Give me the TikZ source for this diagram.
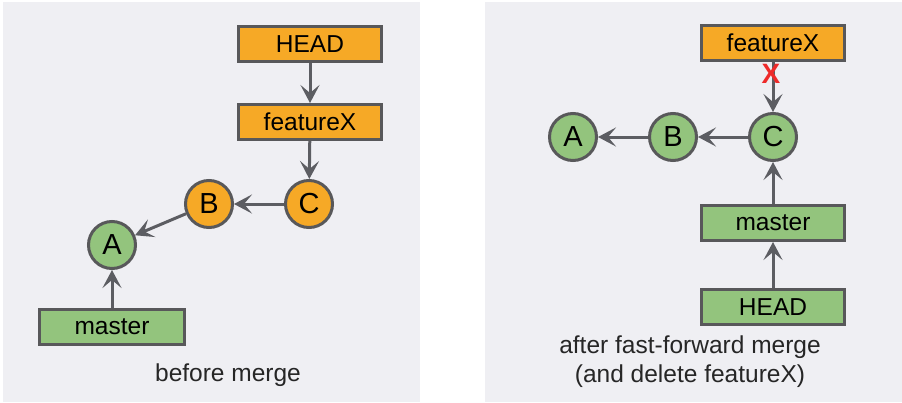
\documentclass[tikz,border=0pt]{standalone}
\usepackage{fontspec}
\setmainfont{Liberation Sans}
\usetikzlibrary{arrows.meta}
\definecolor{panelbg}{HTML}{EFEFF3}
\definecolor{orangefill}{HTML}{F6A926}
\definecolor{greenfill}{HTML}{93C47D}
\definecolor{edgegray}{HTML}{58585A}
\definecolor{arrowgray}{HTML}{5C5D62}
\definecolor{xred}{HTML}{EE2A2A}
\tikzset{
  refbox/.style={draw=edgegray, line width=3pt, minimum width=143pt, minimum height=35pt, inner sep=0pt, font=\fontsize{24.5}{29}\selectfont},
  commit/.style={circle, draw=edgegray, line width=3pt, minimum size=47pt, inner sep=0pt, font=\fontsize{29}{33}\selectfont},
  orangeref/.style={refbox, fill=orangefill},
  greenref/.style={refbox, fill=greenfill},
  orangecommit/.style={commit, fill=orangefill},
  greencommit/.style={commit, fill=greenfill},
  link/.style={draw=arrowgray, line width=3pt, -{Stealth[length=18pt, width=19pt, inset=8pt]}},
  caption/.style={font=\fontsize{24.5}{29}\selectfont, text=black!85, align=center}
}
\begin{document}
\begin{tikzpicture}[x=1pt, y=-1pt]
\useasboundingbox (0,0) rectangle (902,402);
\fill[white] (0,0) rectangle (902,402);
\fill[panelbg] (3,2) rectangle (420,402);
\fill[panelbg] (485,2) rectangle (902,402);

% left panel: before merge
\node[orangeref] (lhead) at (310,44) {HEAD};
\node[orangeref] (lfeat) at (310,122) {featureX};
\node[orangecommit] (lc) at (309,204) {C};
\node[orangecommit] (lb) at (209,204) {B};
\node[greencommit] (la) at (112,245) {A};
\node[greenref, minimum width=145pt] (lmaster) at (112,327) {master};
\node[caption] (lcap) at (228,375) {before merge};

\draw[link] (lhead) -- (lfeat);
\draw[link] (lfeat) -- (lc);
\draw[link] (lc) -- (lb);
\draw[link] (lb) -- (la);
\draw[link] (lmaster) -- (la);

% right panel: after fast-forward merge
\node[orangeref] (rfeat) at (773,43) {featureX};
\node[greencommit] (rc) at (773,137) {C};
\node[greencommit] (rb) at (673,137) {B};
\node[greencommit] (ra) at (573,137) {A};
\node[greenref] (rmaster) at (773,223) {master};
\node[greenref] (rhead) at (773,307) {HEAD};
\node[caption] (rcap) at (690,362) {after fast-forward merge\\(and delete featureX)};

\draw[link] (rfeat) -- (rc);
\draw[link] (rc) -- (rb);
\draw[link] (rb) -- (ra);
\draw[link] (rmaster) -- (rc);
\draw[link] (rhead) -- (rmaster);
\node[text=xred, font=\fontsize{28}{32}\selectfont\bfseries, inner sep=0pt] (xmark) at (771,74) {X};
\end{tikzpicture}
\end{document}
